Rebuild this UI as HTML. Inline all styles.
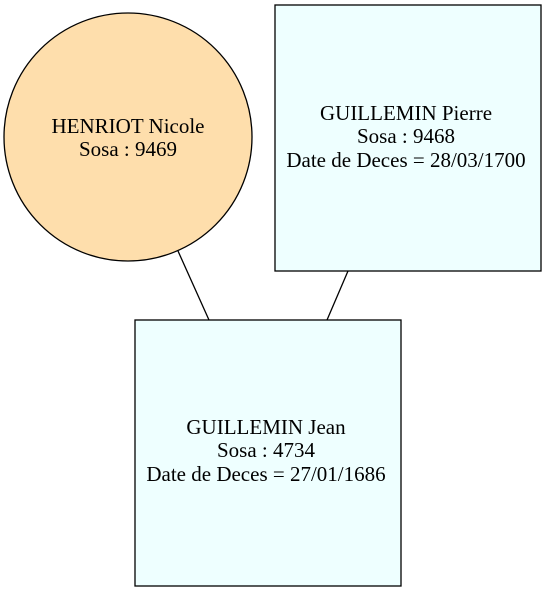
<!DOCTYPE html>
<html><head><style>body{margin:0;background:#fff}</style></head><body>
<svg width="547" height="592" xmlns="http://www.w3.org/2000/svg" font-family="Liberation Serif, serif" font-size="21">
<rect width="547" height="592" fill="#fff"/>
<line x1="178" y1="251" x2="209" y2="320" stroke="#000" stroke-width="1.3"/>
<line x1="348" y1="271" x2="327" y2="320" stroke="#000" stroke-width="1.3"/>
<circle cx="128" cy="137" r="124" fill="#fedeac" stroke="#000" stroke-width="1.3"/>
<text x="128" y="133" text-anchor="middle">HENRIOT Nicole</text>
<text x="128" y="156" text-anchor="middle">Sosa : 9469</text>
<rect x="275" y="5" width="266" height="266" fill="#eeffff" stroke="#000" stroke-width="1.3"/>
<text x="406" y="120" text-anchor="middle">GUILLEMIN Pierre</text>
<text x="406" y="143" text-anchor="middle">Sosa : 9468</text>
<text x="406" y="167" text-anchor="middle">Date de Deces = 28/03/1700</text>
<rect x="135" y="320" width="266" height="266" fill="#eeffff" stroke="#000" stroke-width="1.3"/>
<text x="266" y="434" text-anchor="middle">GUILLEMIN Jean</text>
<text x="266" y="457" text-anchor="middle">Sosa : 4734</text>
<text x="266" y="481" text-anchor="middle">Date de Deces = 27/01/1686</text>
</svg>
</body></html>
